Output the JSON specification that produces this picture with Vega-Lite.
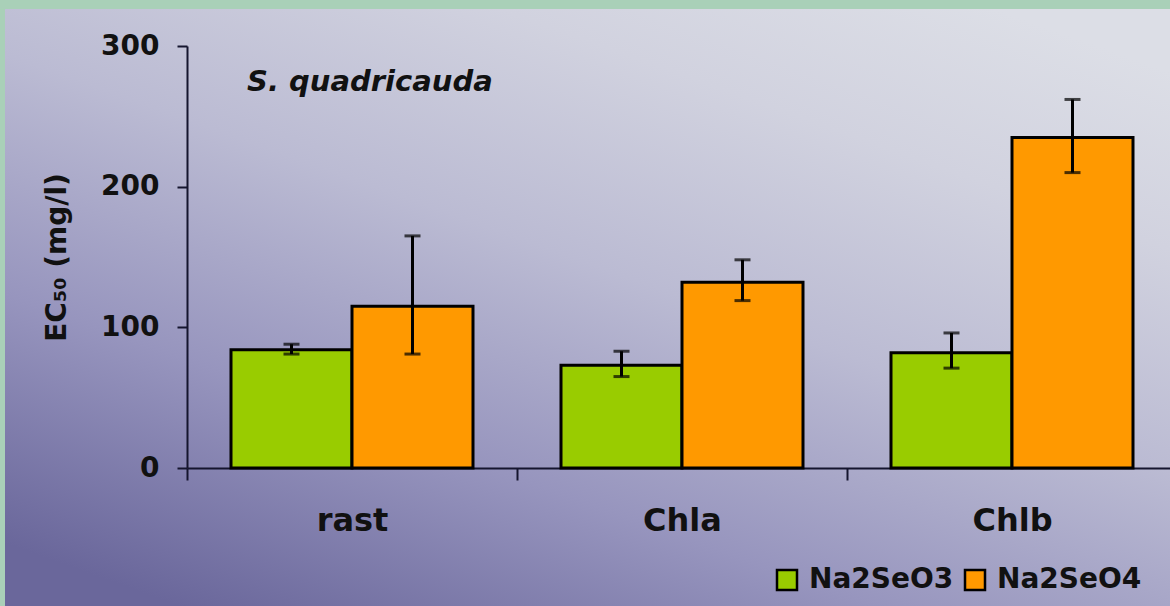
{
  "$schema": "https://vega.github.io/schema/vega-lite/v6.json",
  "width": 1165,
  "height": 597,
  "autosize": "none",
  "padding": {"left": 5, "top": 9, "right": 0, "bottom": 0},
  "background": "#a9d0b8",
  "title": {
    "text": "S. quadricauda",
    "anchor": "start",
    "frame": "group",
    "orient": "top",
    "offset": -88,
    "dx": 242,
    "font": "DejaVu Sans",
    "fontSize": 29,
    "fontWeight": "bold",
    "fontStyle": "italic",
    "color": "#111111"
  },
  "config": {
    "view": {
      "stroke": null,
      "fill": {
        "gradient": "linear",
        "x1": 0.15, "y1": 1, "x2": 0.85, "y2": 0,
        "stops": [
          {"offset": 0, "color": "#6a679b"},
          {"offset": 0.28, "color": "#9795be"},
          {"offset": 0.55, "color": "#bbbbd3"},
          {"offset": 0.8, "color": "#d1d2df"},
          {"offset": 1, "color": "#dcdee6"}
        ]
      }
    },
    "axis": {
      "grid": false,
      "domainColor": "#15152e",
      "domainWidth": 2,
      "tickColor": "#15152e",
      "tickWidth": 2,
      "labelFont": "DejaVu Sans",
      "labelFontWeight": "bold",
      "labelColor": "#111111",
      "titleFont": "DejaVu Sans",
      "titleFontWeight": "bold",
      "titleColor": "#111111"
    }
  },
  "data": {
    "values": [
      {"group": "rast", "salt": "Na2SeO3", "ec50": 84, "lo": 81, "hi": 88},
      {"group": "rast", "salt": "Na2SeO4", "ec50": 115, "lo": 81, "hi": 165},
      {"group": "Chla", "salt": "Na2SeO3", "ec50": 73, "lo": 65, "hi": 83},
      {"group": "Chla", "salt": "Na2SeO4", "ec50": 132, "lo": 119, "hi": 148},
      {"group": "Chlb", "salt": "Na2SeO3", "ec50": 82, "lo": 71, "hi": 96},
      {"group": "Chlb", "salt": "Na2SeO4", "ec50": 235, "lo": 210, "hi": 262}
    ]
  },
  "encoding": {
    "x": {
      "field": "group",
      "type": "nominal",
      "sort": ["rast", "Chla", "Chlb"],
      "scale": {"range": [182, 1172], "paddingInner": 0, "paddingOuter": 0},
      "axis": {
        "title": null,
        "orient": "bottom",
        "offset": -138,
        "tickBand": "extent",
        "tickSize": 12,
        "labelPadding": 25,
        "labelAngle": 0,
        "labelFontSize": 32
      }
    },
    "xOffset": {
      "field": "salt",
      "type": "nominal",
      "scale": {"paddingInner": 0, "paddingOuter": 0.3636}
    }
  },
  "layer": [
    {
      "mark": {"type": "bar", "stroke": "#000000", "strokeWidth": 3},
      "encoding": {
        "y": {
          "field": "ec50",
          "type": "quantitative",
          "scale": {"domain": [0, 300], "range": [459, 37], "nice": false},
          "axis": {
            "title": "EC₅₀ (mg/l)",
            "offset": -182,
            "values": [0, 100, 200, 300],
            "tickSize": 10,
            "labelPadding": 18,
            "labelFontSize": 28,
            "titleFontSize": 28,
            "titlePadding": 29
          }
        },
        "color": {
          "field": "salt",
          "type": "nominal",
          "scale": {"domain": ["Na2SeO3", "Na2SeO4"], "range": ["#99cc00", "#ff9900"]},
          "legend": {
            "title": null,
            "orient": "none",
            "direction": "horizontal",
            "legendX": 768,
            "legendY": 557,
            "padding": 0,
            "symbolType": "square",
            "symbolSize": 400,
            "symbolStrokeColor": "#000000",
            "symbolStrokeWidth": 2.5,
            "symbolOpacity": 1,
            "labelFont": "DejaVu Sans",
            "labelFontWeight": "bold",
            "labelFontSize": 28,
            "labelColor": "#111111",
            "labelOffset": 8,
            "columnPadding": 6
          }
        }
      }
    },
    {
      "mark": {"type": "rule", "color": "#000000", "strokeWidth": 3},
      "encoding": {
        "y": {"field": "lo", "type": "quantitative"},
        "y2": {"field": "hi"}
      }
    },
    {
      "mark": {"type": "tick", "color": "#000000", "size": 16, "thickness": 3, "orient": "horizontal"},
      "encoding": {"y": {"field": "lo", "type": "quantitative"}}
    },
    {
      "mark": {"type": "tick", "color": "#000000", "size": 16, "thickness": 3, "orient": "horizontal"},
      "encoding": {"y": {"field": "hi", "type": "quantitative"}}
    }
  ]
}
